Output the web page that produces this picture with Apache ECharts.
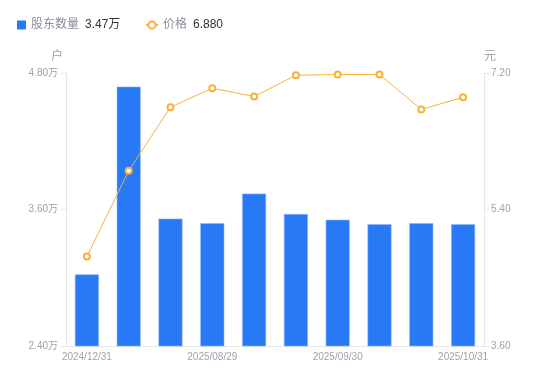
<!DOCTYPE html>
<html>
<head>
<meta charset="utf-8">
<style>
  html, body { margin: 0; padding: 0; background: #fff; }
  #chart { width: 550px; height: 381px; }
</style>
<script src="https://cdn.jsdelivr.net/npm/echarts@6/dist/echarts.min.js"></script>
</head>
<body>
<div id="chart"></div>
<script>
// holders count (万户) vs price (元), per report date
const dates = [
  "2024/12/31", "2025/03/31", "2025/06/30", "2025/08/29", "2025/09/10",
  "2025/09/19", "2025/09/30", "2025/10/10", "2025/10/20", "2025/10/31",
];
const holders = [3.03, 4.68, 3.52, 3.48, 3.74, 3.56, 3.51, 3.47, 3.48, 3.47];
const prices = [4.78, 5.91, 6.75, 7.0, 6.89, 7.17, 7.18, 7.18, 6.72, 6.88];

const BLUE = "#2879f5";
const ORANGE = "#f8b13c";
const LABEL = "#a0a0ae";
const AXIS = "#e6e6e6";

const chart = echarts.init(document.getElementById("chart"));

const lastHolders = holders[holders.length - 1];
const lastPrice = prices[prices.length - 1];

const legendText = {
  fontSize: 12,
  fontFamily: "Liberation Sans, Noto Sans CJK SC, sans-serif",
  rich: {
    n: { color: "#8c8c9b", fontSize: 12, padding: [0, 6, 0, 0] },
    v: { color: "#333333", fontSize: 12 },
  },
};

const yAxisCommon = {
  type: "value",
  nameTextStyle: { color: LABEL, fontSize: 12 },
  nameGap: 10,
  axisLine: { show: true, lineStyle: { color: AXIS } },
  axisTick: { show: true, length: 5, lineStyle: { color: AXIS } },
  splitLine: { show: false },
  axisLabel: { color: LABEL, fontSize: 10, margin: 8 },
};

chart.setOption({
  animation: false,
  textStyle: { fontFamily: "Liberation Sans, Noto Sans CJK SC, sans-serif" },
  legend: [
    {
      left: 17,
      top: 19,
      padding: 0,
      itemWidth: 9,
      itemHeight: 9,
      itemGap: 5,
      icon: "rect",
      itemStyle: { borderWidth: 0 },
      data: ["股东数量"],
      textStyle: legendText,
      formatter: (n) => `{n|${n}}{v|${lastHolders.toFixed(2)}万}`,
    },
    {
      left: 145,
      top: 19,
      padding: 0,
      itemWidth: 12,
      itemHeight: 9,
      data: ["价格"],
      textStyle: legendText,
      formatter: (n) => `{n|${n}}{v|${lastPrice.toFixed(3)}}`,
    },
  ],
  grid: { left: 66, right: 66, top: 73, bottom: 35 },
  xAxis: {
    type: "category",
    data: dates,
    axisLine: { lineStyle: { color: AXIS } },
    axisTick: { show: false },
    axisLabel: { color: LABEL, fontSize: 10, margin: 6, interval: 2 },
  },
  yAxis: [
    {
      ...yAxisCommon,
      name: "户",
      nameTextStyle: { ...yAxisCommon.nameTextStyle, align: "right", padding: [0, 3, 0, 0] },
      min: 2.4,
      max: 4.8,
      interval: 1.2,
      axisLabel: { ...yAxisCommon.axisLabel, formatter: (v) => v.toFixed(2) + "万" },
    },
    {
      ...yAxisCommon,
      name: "元",
      position: "right",
      nameTextStyle: { ...yAxisCommon.nameTextStyle, align: "left" },
      min: 3.6,
      max: 7.2,
      interval: 1.8,
      axisLabel: { ...yAxisCommon.axisLabel, margin: 7, formatter: (v) => v.toFixed(2) },
    },
  ],
  series: [
    {
      name: "股东数量",
      type: "bar",
      yAxisIndex: 0,
      barWidth: 24,
      itemStyle: { color: BLUE, borderColor: "#8db5f9", borderWidth: 0.6 },
      data: holders,
    },
    {
      name: "价格",
      type: "line",
      yAxisIndex: 1,
      symbol: "emptyCircle",
      symbolSize: 6,
      lineStyle: { color: ORANGE, width: 1 },
      itemStyle: { color: ORANGE, borderWidth: 2 },
      data: prices,
    },
  ],
});

window.addEventListener("resize", () => chart.resize());
</script>
</body>
</html>
